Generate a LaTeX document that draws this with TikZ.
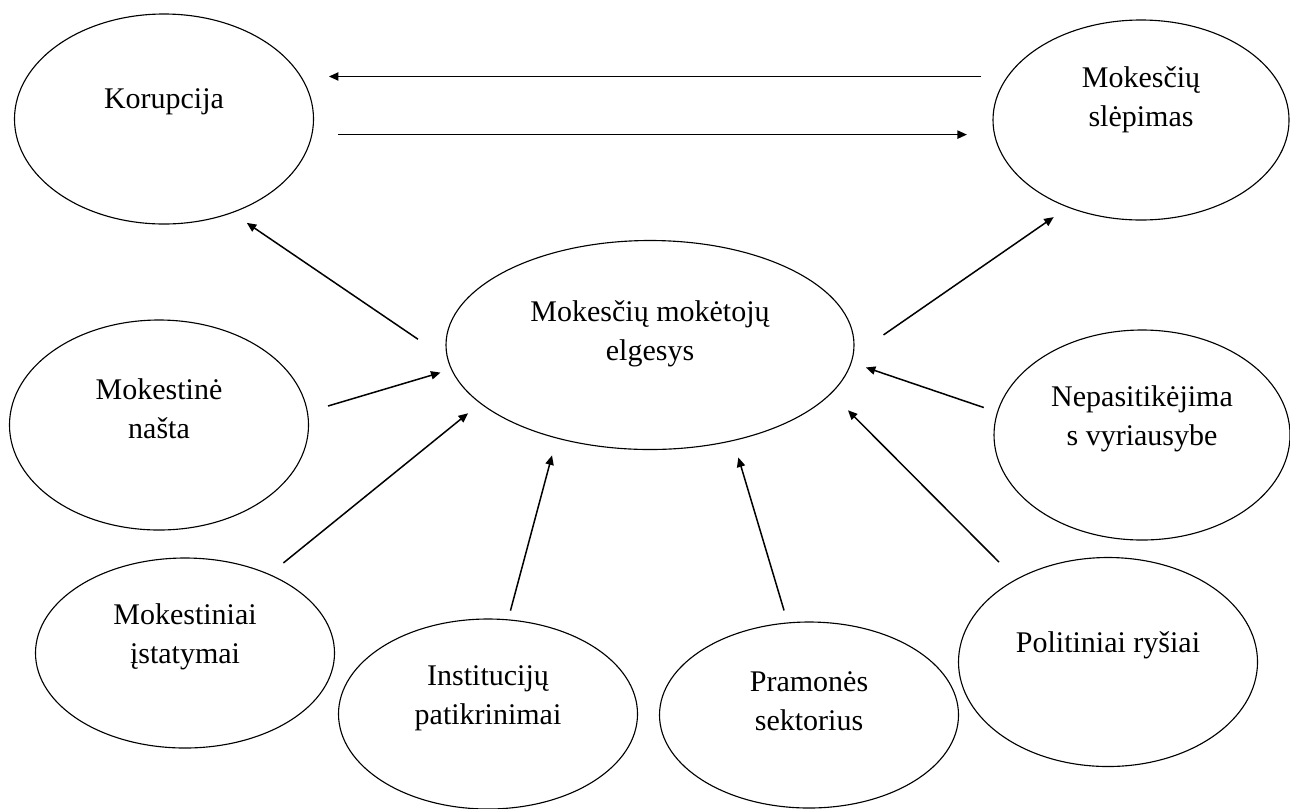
\documentclass[tikz,border=0pt]{standalone}
\usepackage{fontspec}
\setmainfont{Liberation Serif}
\usetikzlibrary{arrows.meta,shapes.geometric}

\begin{document}
\begin{tikzpicture}[x=0.4pt,y=-0.4pt,>={Triangle[length=3.8pt,width=3.3pt]},
 oval/.style={ellipse,draw,line width=0.45pt,inner sep=0pt,minimum width=119.6pt,minimum height=82pt},
 lbl/.style={align=center,inner sep=0pt,font=\fontsize{12}{15.5}\selectfont,yshift=6.4pt},
 link/.style={->,line width=0.6pt}]
\useasboundingbox (0,0) rectangle (1290,808);
% ellipses
\node[oval,minimum height=84pt,label={[lbl,yshift=0.4pt]center:Korupcija}] (kor) at (164,119) {};
\node[oval,minimum width=118.4pt,minimum height=80pt,label={[lbl,yshift=1.6pt]center:Mokesčių\\slėpimas}] (slep) at (1141,120) {};
\node[oval,minimum width=163.2pt,minimum height=83.6pt,label={[lbl,yshift=-2pt]center:Mokesčių mokėtojų\\elgesys}] (elg) at (650,345) {};
\node[oval,minimum height=84pt,label={[lbl]center:Mokestinė\\našta}] (nasta) at (159,425) {};
\node[oval,minimum width=118.4pt,minimum height=84pt,label={[lbl]center:Nepasitikėjima\\s vyriausybe}] (nepas) at (1142,435) {};
\node[oval,minimum height=76pt,label={[lbl]center:Mokestiniai\\įstatymai}] (istat) at (185,653) {};
\node[oval,minimum height=76pt,label={[lbl]center:Institucijų\\patikrinimai}] (inst) at (488,714) {};
\node[oval,minimum height=74.4pt,label={[lbl,yshift=-0.8pt]center:Pramonės\\sektorius}] (pram) at (809,715) {};
\node[oval,minimum height=83.6pt,label={[lbl,yshift=0.4pt]center:Politiniai ryšiai}] (polit) at (1108,662) {};
% arrows
\draw[link,shorten <=10.4pt,shorten >=10.4pt] (slep.162.6) -- (kor.16.5 |- slep.162.6);
\draw[link,shorten <=10.4pt,shorten >=10.7pt] (kor.-6.2) -- (slep.185.9 |- kor.-6.2);
\draw[link,shorten <=14.2pt,shorten >=7pt] (elg.184.5) -- (kor.-54.8);
\draw[link,shorten <=14.6pt,shorten >=6.8pt] (elg.-3) -- (slep.230.5);
\draw[link,shorten <=8.4pt,shorten >=4.4pt] (nasta.5.1) -- (elg.187.5);
\draw[link,shorten <=5.6pt,shorten >=6pt] (nepas.171.6) -- (elg.-5.2);
\draw[link,shorten <=7.1pt,shorten >=6.2pt] (istat.43.5) -- (elg.199);
\draw[link,shorten <=3.6pt,shorten >=7pt] (inst.78.3) -- (elg.225.6);
\draw[link,shorten <=5pt,shorten >=6.9pt] (pram.103.6) -- (elg.-49.7);
\draw[link,shorten <=9.6pt,shorten >=9.4pt] (polit.138.9) -- (elg.-15.8);
\end{tikzpicture}
\end{document}
